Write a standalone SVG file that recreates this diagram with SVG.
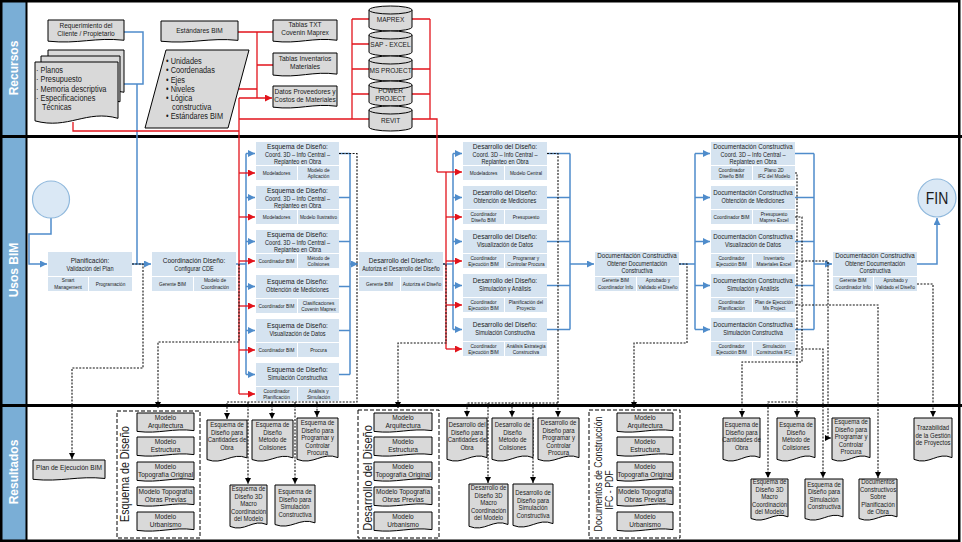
<svg xmlns="http://www.w3.org/2000/svg" width="962" height="542" viewBox="0 0 962 542">
<defs>
<style>
.t{font-family:"Liberation Sans",Arial,sans-serif;fill:#1a1a1a;text-anchor:middle;transform-box:fill-box;transform-origin:50% 50%;transform:scaleX(0.82)}
.s{text-anchor:start;transform-origin:0% 50%}
.f8{font-size:8px}
.f9{font-size:9px}
.ti{font-size:8px}
.ti2{font-size:7.6px}
.st{font-size:6.8px}
.rl{font-size:5.8px}
.r7{font-size:7.3px}
.bx{fill:#d5e3f0}
.doc{fill:#d9d9d9;stroke:#000;stroke-width:1}
.db{fill:#d9d9d9;stroke:#000;stroke-width:1}
.bl{fill:none;stroke:#4f8ccb;stroke-width:1.5}
.rd{fill:none;stroke:#e2141c;stroke-width:1.3}
.dt{fill:none;stroke:#111;stroke-width:1.1;stroke-dasharray:2 1.4}
.grp{fill:none;stroke:#000;stroke-width:1;stroke-dasharray:4 2}
.lane{font-family:"Liberation Sans",Arial,sans-serif;font-weight:bold;font-size:12px;fill:#fff;text-anchor:middle}
.circ{fill:#dae8f5;stroke:#8fb8dc;stroke-width:1.2}
</style>
<symbol id="doc" viewBox="0 0 100 100" preserveAspectRatio="none" overflow="visible"><path d="M0,0H100V88C62,74 40,106 0,92Z" vector-effect="non-scaling-stroke"/></symbol>
<marker id="ab" viewBox="0 0 10 10" refX="10" refY="5" markerWidth="7" markerHeight="7" markerUnits="userSpaceOnUse" orient="auto"><path d="M0,0L10,5L0,10z" fill="#4f8ccb"/></marker>
<marker id="ar" viewBox="0 0 10 10" refX="10" refY="5" markerWidth="7" markerHeight="7" markerUnits="userSpaceOnUse" orient="auto"><path d="M0,0L10,5L0,10z" fill="#e2141c"/></marker>
<marker id="ak" viewBox="0 0 10 10" refX="10" refY="5" markerWidth="6" markerHeight="6" markerUnits="userSpaceOnUse" orient="auto"><path d="M0,0L10,5L0,10z" fill="#000"/></marker>
</defs>
<rect x="0" y="0" width="962" height="542" fill="#fff"/>
<g id="lanes">
<rect x="0" y="0" width="26" height="542" fill="#7aaed6"/>
<text class="lane" transform="translate(17.5,68) rotate(-90)">Recursos</text>
<text class="lane" transform="translate(17.5,270) rotate(-90)">Usos BIM</text>
<text class="lane" transform="translate(17.5,472) rotate(-90)">Resultados</text>
<line x1="0" y1="136.5" x2="962" y2="136.5" stroke="#000" stroke-width="3"/>
<line x1="0" y1="405.5" x2="962" y2="405.5" stroke="#000" stroke-width="3"/>
<line x1="26.5" y1="0" x2="26.5" y2="542" stroke="#000" stroke-width="2"/>
<rect x="1.25" y="1.25" width="958" height="539.5" fill="none" stroke="#000" stroke-width="2.5"/>
</g>

<g id="connectors">
<path class="bl" d="M124,32H143V84H124M137,84V264"/>
<path class="bl" d="M51,218V234H29V264H47" marker-end="url(#ab)"/>
<path class="bl" d="M132,264H151" marker-end="url(#ab)"/>
<path class="bl" d="M236,264H246M246,153.5V374.5"/>
<path class="bl" d="M246,153.5H255" marker-end="url(#ab)"/>
<path class="bl" d="M246,197.5H255" marker-end="url(#ab)"/>
<path class="bl" d="M246,241.5H255" marker-end="url(#ab)"/>
<path class="bl" d="M246,286.5H255" marker-end="url(#ab)"/>
<path class="bl" d="M246,330.5H255" marker-end="url(#ab)"/>
<path class="bl" d="M246,374.5H255" marker-end="url(#ab)"/>
<path class="bl" d="M339,153.5H350M339,197.5H350M339,241.5H350M339,286.5H350M339,330.5H350M339,374.5H350M350,153.5V374.5"/>
<path class="bl" d="M350,264H358" marker-end="url(#ab)"/>
<path class="bl" d="M443,264H453M453,153.5V329.5"/>
<path class="bl" d="M453,153.5H462" marker-end="url(#ab)"/>
<path class="bl" d="M453,197.5H462" marker-end="url(#ab)"/>
<path class="bl" d="M453,241.5H462" marker-end="url(#ab)"/>
<path class="bl" d="M453,285.5H462" marker-end="url(#ab)"/>
<path class="bl" d="M453,329.5H462" marker-end="url(#ab)"/>
<path class="bl" d="M547,153.5H570M547,197.5H570M547,241.5H570M547,285.5H570M547,329.5H570M570,153.5V329.5"/>
<path class="bl" d="M570,264H594" marker-end="url(#ab)"/>
<path class="bl" d="M679,264H695M695,153.5V329.5"/>
<path class="bl" d="M695,153.5H710" marker-end="url(#ab)"/>
<path class="bl" d="M695,197.5H710" marker-end="url(#ab)"/>
<path class="bl" d="M695,241.5H710" marker-end="url(#ab)"/>
<path class="bl" d="M695,285.5H710" marker-end="url(#ab)"/>
<path class="bl" d="M695,329.5H710" marker-end="url(#ab)"/>
<path class="bl" d="M795,153.5H814M795,197.5H814M795,241.5H814M795,285.5H814M795,329.5H814M814,153.5V329.5"/>
<path class="bl" d="M814,264H832" marker-end="url(#ab)"/>
<path class="bl" d="M917,264H937V218" marker-end="url(#ab)"/>

<path class="rd" d="M238,32H273M257,32V98M257,65H273M239,89H257M73,122V131H239M239,98V394M239,119H369M352,19V119M352,19H369M352,44H369M352,69H369M352,94H369M412,19H430M412,69H430M412,94H430M430,19V119M412,119H437V172M446,172V349"/>
<path class="rd" d="M239,98H272" marker-end="url(#ar)"/>
<path class="rd" d="M239,173H255" marker-end="url(#ar)"/>
<path class="rd" d="M239,217H255" marker-end="url(#ar)"/>
<path class="rd" d="M239,261H255" marker-end="url(#ar)"/>
<path class="rd" d="M239,306H255" marker-end="url(#ar)"/>
<path class="rd" d="M239,350H255" marker-end="url(#ar)"/>
<path class="rd" d="M239,394H255" marker-end="url(#ar)"/>
<path class="rd" d="M437,172H462" marker-end="url(#ar)"/>
<path class="rd" d="M446,217H462" marker-end="url(#ar)"/>
<path class="rd" d="M446,261H462" marker-end="url(#ar)"/>
<path class="rd" d="M446,305H462" marker-end="url(#ar)"/>
<path class="rd" d="M446,349H462" marker-end="url(#ar)"/>

<path class="dt" d="M132,264H143V368H72V459" marker-end="url(#ak)"/>
<path class="dt" d="M239,264V342H158V408" marker-end="url(#ak)"/>
<path class="dt" d="M339,153.5H357V402H227V419" marker-end="url(#ak)"/>
<path class="dt" d="M248,402V484" marker-end="url(#ak)"/>
<path class="dt" d="M272,402V419" marker-end="url(#ak)"/>
<path class="dt" d="M295,402V484" marker-end="url(#ak)"/>
<path class="dt" d="M317,402V417" marker-end="url(#ak)"/>
<path class="dt" d="M443,264H446V343H398V408" marker-end="url(#ak)"/>
<path class="dt" d="M547,153.5H558V417" marker-end="url(#ak)"/>
<path class="dt" d="M558,403H467V417" marker-end="url(#ak)"/>
<path class="dt" d="M488,403V483" marker-end="url(#ak)"/>
<path class="dt" d="M512,403V417" marker-end="url(#ak)"/>
<path class="dt" d="M533,403V483" marker-end="url(#ak)"/>
<path class="dt" d="M679,264H687V343H634V408" marker-end="url(#ak)"/>
<path class="dt" d="M795,173H797V417" marker-end="url(#ak)"/>
<path class="dt" d="M797,402H768V478" marker-end="url(#ak)"/>
<path class="dt" d="M795,217H802V362H742V417" marker-end="url(#ak)"/>
<path class="dt" d="M795,261H828V438H831" marker-end="url(#ak)"/>
<path class="dt" d="M795,305H878V478" marker-end="url(#ak)"/>
<path class="dt" d="M795,349H823V478" marker-end="url(#ak)"/>
<path class="dt" d="M917,284H933V417" marker-end="url(#ak)"/>
</g>

<g id="req">
<use href="#doc" class="doc" x="48" y="20" width="76" height="23"/>
<text class="t f8" x="86" y="28.5">Requerimiento del</text>
<text class="t f8" x="86" y="36.5">Cliente / Propietario</text>
</g>
<g id="docs-proyecto">
<use href="#doc" class="doc" x="48" y="50" width="76" height="48"/>
<use href="#doc" class="doc" x="41" y="56" width="79" height="52"/>
<use href="#doc" class="doc" x="35" y="62" width="83" height="64"/>
<text class="t s f9" x="36" y="73">· Planos</text>
<text class="t s f9" x="36" y="82">· Presupuesto</text>
<text class="t s f9" x="36" y="92">· Memoria descriptiva</text>
<text class="t s f9" x="36" y="101">· Especificaciones</text>
<text class="t s f9" x="42" y="110">Técnicas</text>
</g>
<g id="estandares">
<use href="#doc" class="doc" x="161" y="21" width="77" height="22"/>
<text class="t f8" x="199.5" y="33">Estándares BIM</text>
</g>
<g id="lista-estandares">
<polygon class="doc" points="166,50 249,50 228,128 145,128"/>
<text class="t s f9" x="166" y="64">• Unidades</text>
<text class="t s f9" x="166" y="73">• Coordenadas</text>
<text class="t s f9" x="166" y="83">• Ejes</text>
<text class="t s f9" x="166" y="92">• Niveles</text>
<text class="t s f9" x="166" y="101">• Lógica</text>
<text class="t s f9" x="172" y="110">constructiva</text>
<text class="t s f9" x="166" y="119">• Estándares BIM</text>
</g>
<g id="tablas-txt">
<use href="#doc" class="doc" x="273" y="20" width="64" height="23"/>
<text class="t f8" x="305" y="27.5">Tablas TXT</text>
<text class="t f8" x="305" y="35.5">Covenin Maprex</text>
</g>
<g id="tablas-inv">
<use href="#doc" class="doc" x="273" y="53" width="64" height="24"/>
<text class="t f8" x="305" y="61">Tablas Inventarios</text>
<text class="t f8" x="305" y="69">Materiales</text>
</g>
<g id="datos-prov">
<use href="#doc" class="doc" x="273" y="86" width="64" height="23"/>
<text class="t f8" x="305" y="94">Datos Proveedores y</text>
<text class="t f8" x="305" y="102">Costos de Materiales</text>
</g>
<g id="db-maprex">
<path class="db" d="M369,10a21.5,4 0 0 1 43,0v17a21.5,4 0 0 1 -43,0z"/><path class="db" fill="none" d="M369,10a21.5,4 0 0 0 43,0"/>
<text class="t f8" x="390.5" y="22.5">MAPREX</text>
</g>
<g id="db-sap">
<path class="db" d="M369,35a21.5,4 0 0 1 43,0v17a21.5,4 0 0 1 -43,0z"/><path class="db" fill="none" d="M369,35a21.5,4 0 0 0 43,0"/>
<text class="t f8" x="390.5" y="47.5">SAP - EXCEL</text>
</g>
<g id="db-msproject">
<path class="db" d="M369,60a21.5,4 0 0 1 43,0v17a21.5,4 0 0 1 -43,0z"/><path class="db" fill="none" d="M369,60a21.5,4 0 0 0 43,0"/>
<text class="t f8" x="390.5" y="72.5">MS PROJECT</text>
</g>
<g id="db-powerproject">
<path class="db" d="M369,85a21.5,4 0 0 1 43,0v17a21.5,4 0 0 1 -43,0z"/><path class="db" fill="none" d="M369,85a21.5,4 0 0 0 43,0"/>
<text class="t f8" x="390.5" y="93.5">POWER</text>
<text class="t f8" x="390.5" y="101.5">PROJECT</text>
</g>
<g id="db-revit">
<path class="db" d="M369,110a21.5,4 0 0 1 43,0v17a21.5,4 0 0 1 -43,0z"/><path class="db" fill="none" d="M369,110a21.5,4 0 0 0 43,0"/>
<text class="t f8" x="390.5" y="123">REVIT</text>
</g>

<g id="inicio"><circle class="circ" cx="51" cy="199.5" r="18.5"/></g>
<g id="fin"><circle class="circ" cx="937" cy="198" r="19"/><text class="t" style="font-size:17px" x="937" y="204">FIN</text></g>

<g id="planificacion">
<rect class="bx" x="48" y="252" width="84" height="24"/><rect class="bx" x="48" y="277" width="40" height="14"/><rect class="bx" x="89" y="277" width="43" height="14"/>
<text class="t ti" x="90" y="263">Planificación:</text><text class="t st" x="90" y="271">Validación del Plan</text>
<text class="t rl" x="68" y="282">Smart</text><text class="t rl" x="68" y="288.8">Management</text>
<text class="t rl" x="110.5" y="286">Programación</text>
</g>
<g id="coordinacion">
<rect class="bx" x="152" y="252" width="84" height="24"/><rect class="bx" x="152" y="277" width="41" height="14"/><rect class="bx" x="194" y="277" width="42" height="14"/>
<text class="t ti" x="194" y="263">Coordinación Diseño:</text><text class="t st" x="194" y="271">Configurar CDE</text>
<text class="t rl" x="172.5" y="286">Gerente BIM</text>
<text class="t rl" x="215" y="282">Modelo de</text><text class="t rl" x="215" y="288.8">Coordinación</text>
</g>

<g id="esq1">
<rect class="bx" x="256" y="142" width="83" height="23"/><rect class="bx" x="256" y="166" width="41" height="14"/><rect class="bx" x="298" y="166" width="41" height="14"/>
<text class="t ti" x="297.5" y="149.3">Esquema de Diseño:</text><text class="t st" x="297.5" y="156.6">Coord. 3D – Info Central –</text><text class="t st" x="297.5" y="163.9">Replanteo en Obra</text>
<text class="t rl" x="276.5" y="175">Modeladores</text><text class="t rl" x="318.5" y="171.6">Modelo de</text><text class="t rl" x="318.5" y="178.4">Aplicación</text>
</g>
<g id="esq2">
<rect class="bx" x="256" y="186" width="83" height="23"/><rect class="bx" x="256" y="210" width="41" height="14"/><rect class="bx" x="298" y="210" width="41" height="14"/>
<text class="t ti" x="297.5" y="193.3">Esquema de Diseño:</text><text class="t st" x="297.5" y="200.6">Coord. 3D – Info Central –</text><text class="t st" x="297.5" y="207.9">Replanteo en Obra</text>
<text class="t rl" x="276.5" y="219">Modeladores</text><text class="t rl" x="318.5" y="219">Modelo Ilustrativo</text>
</g>
<g id="esq3">
<rect class="bx" x="256" y="230" width="83" height="23"/><rect class="bx" x="256" y="254" width="41" height="14"/><rect class="bx" x="298" y="254" width="41" height="14"/>
<text class="t ti" x="297.5" y="237.3">Esquema de Diseño:</text><text class="t st" x="297.5" y="244.6">Coord. 3D – Info Central –</text><text class="t st" x="297.5" y="251.9">Replanteo en Obra</text>
<text class="t rl" x="276.5" y="263">Coordinador BIM</text><text class="t rl" x="318.5" y="259.6">Método de</text><text class="t rl" x="318.5" y="266.4">Colisiones</text>
</g>
<g id="esq4">
<rect class="bx" x="256" y="275" width="83" height="23"/><rect class="bx" x="256" y="299" width="41" height="14"/><rect class="bx" x="298" y="299" width="41" height="14"/>
<text class="t ti" x="297.5" y="284">Esquema de Diseño:</text><text class="t st" x="297.5" y="292">Obtención de Mediciones</text>
<text class="t rl" x="276.5" y="308">Coordinador BIM</text><text class="t rl" x="318.5" y="304.6">Clasificaciones</text><text class="t rl" x="318.5" y="311.4">Covenin Maprex</text>
</g>
<g id="esq5">
<rect class="bx" x="256" y="319" width="83" height="23"/><rect class="bx" x="256" y="343" width="41" height="14"/><rect class="bx" x="298" y="343" width="41" height="14"/>
<text class="t ti" x="297.5" y="328">Esquema de Diseño:</text><text class="t st" x="297.5" y="336">Visualización de Datos</text>
<text class="t rl" x="276.5" y="352">Coordinador BIM</text><text class="t rl" x="318.5" y="352">Procura</text>
</g>
<g id="esq6">
<rect class="bx" x="256" y="363" width="83" height="23"/><rect class="bx" x="256" y="387" width="41" height="14"/><rect class="bx" x="298" y="387" width="41" height="14"/>
<text class="t ti" x="297.5" y="372">Esquema de Diseño:</text><text class="t st" x="297.5" y="380">Simulación Constructiva</text>
<text class="t rl" x="276.5" y="392.6">Coordinador</text><text class="t rl" x="276.5" y="399.4">Planificación</text>
<text class="t rl" x="318.5" y="392.6">Análisis y</text><text class="t rl" x="318.5" y="399.4">Simulación</text>
</g>

<g id="desarrollo">
<rect class="bx" x="359" y="252" width="84" height="24"/><rect class="bx" x="359" y="277" width="41" height="14"/><rect class="bx" x="401" y="277" width="42" height="14"/>
<text class="t ti" x="401" y="263">Desarrollo del Diseño:</text><text class="t" style="font-size:6.5px" x="401" y="271">Autoriza el Desarrollo del Diseño</text>
<text class="t rl" x="379.5" y="286">Gerente BIM</text><text class="t rl" x="422" y="286">Autoriza el Diseño</text>
</g>

<g id="des1">
<rect class="bx" x="463" y="142" width="84" height="23"/><rect class="bx" x="463" y="166" width="41" height="14"/><rect class="bx" x="505" y="166" width="42" height="14"/>
<text class="t ti" x="505" y="149.3">Desarrollo del Diseño:</text><text class="t st" x="505" y="156.6">Coord. 3D – Info Central –</text><text class="t st" x="505" y="163.9">Replanteo en Obra</text>
<text class="t rl" x="483.5" y="175">Modeladores</text><text class="t rl" x="526" y="175">Modelo Central</text>
</g>
<g id="des2">
<rect class="bx" x="463" y="186" width="84" height="23"/><rect class="bx" x="463" y="210" width="41" height="14"/><rect class="bx" x="505" y="210" width="42" height="14"/>
<text class="t ti" x="505" y="195">Desarrollo del Diseño:</text><text class="t st" x="505" y="203">Obtención de Mediciones</text>
<text class="t rl" x="483.5" y="215.6">Coordinador</text><text class="t rl" x="483.5" y="222.4">Diseño BIM</text><text class="t rl" x="526" y="219">Presupuesto</text>
</g>
<g id="des3">
<rect class="bx" x="463" y="230" width="84" height="23"/><rect class="bx" x="463" y="254" width="41" height="14"/><rect class="bx" x="505" y="254" width="42" height="14"/>
<text class="t ti" x="505" y="239">Desarrollo del Diseño:</text><text class="t st" x="505" y="247">Visualización de Datos</text>
<text class="t rl" x="483.5" y="259.6">Coordinador</text><text class="t rl" x="483.5" y="266.4">Ejecución BIM</text>
<text class="t rl" x="526" y="259.6">Programar y</text><text class="t rl" x="526" y="266.4">Controlar Procura</text>
</g>
<g id="des4">
<rect class="bx" x="463" y="274" width="84" height="23"/><rect class="bx" x="463" y="298" width="41" height="14"/><rect class="bx" x="505" y="298" width="42" height="14"/>
<text class="t ti" x="505" y="283">Desarrollo del Diseño:</text><text class="t st" x="505" y="291">Simulación y Análisis</text>
<text class="t rl" x="483.5" y="303.6">Coordinador</text><text class="t rl" x="483.5" y="310.4">Ejecución BIM</text>
<text class="t rl" x="526" y="303.6">Planificación del</text><text class="t rl" x="526" y="310.4">Proyecto</text>
</g>
<g id="des5">
<rect class="bx" x="463" y="318" width="84" height="23"/><rect class="bx" x="463" y="342" width="41" height="14"/><rect class="bx" x="505" y="342" width="42" height="14"/>
<text class="t ti" x="505" y="327">Desarrollo del Diseño:</text><text class="t st" x="505" y="335">Simulación Constructiva</text>
<text class="t rl" x="483.5" y="347.6">Coordinador</text><text class="t rl" x="483.5" y="354.4">Ejecución BIM</text>
<text class="t rl" x="526" y="347.6">Análisis Estrategia</text><text class="t rl" x="526" y="354.4">Constructiva</text>
</g>

<g id="documentacion">
<rect class="bx" x="595" y="252" width="84" height="24"/><rect class="bx" x="595" y="277" width="41" height="14"/><rect class="bx" x="637" y="277" width="42" height="14"/>
<text class="t ti2" x="637" y="258.3">Documentación Constructiva</text><text class="t st" x="637" y="265.8">Obtener Documentación</text><text class="t st" x="637" y="273.2">Constructiva</text>
<text class="t rl" x="615.5" y="282">Gerente BIM</text><text class="t rl" x="615.5" y="288.8">Coordinador Info</text>
<text class="t rl" x="658" y="282">Aprobado y</text><text class="t rl" x="658" y="288.8">Validado el Diseño</text>
</g>

<g id="doc1">
<rect class="bx" x="711" y="142" width="84" height="23"/><rect class="bx" x="711" y="166" width="41" height="14"/><rect class="bx" x="753" y="166" width="42" height="14"/>
<text class="t ti2" x="753" y="149.3">Documentación Constructiva</text><text class="t st" x="753" y="156.6">Coord. 3D – Info Central –</text><text class="t st" x="753" y="163.9">Replanteo en Obra</text>
<text class="t rl" x="731.5" y="171.6">Coordinador</text><text class="t rl" x="731.5" y="178.4">Diseño BIM</text>
<text class="t rl" x="774" y="171.6">Plano 2D</text><text class="t rl" x="774" y="178.4">IFC del Modelo</text>
</g>
<g id="doc2">
<rect class="bx" x="711" y="186" width="84" height="23"/><rect class="bx" x="711" y="210" width="41" height="14"/><rect class="bx" x="753" y="210" width="42" height="14"/>
<text class="t ti2" x="753" y="195">Documentación Constructiva</text><text class="t st" x="753" y="203">Obtención de Mediciones</text>
<text class="t rl" x="731.5" y="219">Coordinador BIM</text>
<text class="t rl" x="774" y="215.6">Presupuesto</text><text class="t rl" x="774" y="222.4">Maprex-Excel</text>
</g>
<g id="doc3">
<rect class="bx" x="711" y="230" width="84" height="23"/><rect class="bx" x="711" y="254" width="41" height="14"/><rect class="bx" x="753" y="254" width="42" height="14"/>
<text class="t ti2" x="753" y="239">Documentación Constructiva</text><text class="t st" x="753" y="247">Visualización de Datos</text>
<text class="t rl" x="731.5" y="259.6">Coordinador</text><text class="t rl" x="731.5" y="266.4">Ejecución BIM</text>
<text class="t rl" x="774" y="259.6">Inventario</text><text class="t rl" x="774" y="266.4">Materiales Excel</text>
</g>
<g id="doc4">
<rect class="bx" x="711" y="274" width="84" height="23"/><rect class="bx" x="711" y="298" width="41" height="14"/><rect class="bx" x="753" y="298" width="42" height="14"/>
<text class="t ti2" x="753" y="283">Documentación Constructiva</text><text class="t st" x="753" y="291">Simulación y Análisis</text>
<text class="t rl" x="731.5" y="303.6">Coordinador</text><text class="t rl" x="731.5" y="310.4">Planificación</text>
<text class="t rl" x="774" y="303.6">Plan de Ejecución</text><text class="t rl" x="774" y="310.4">Ms Project</text>
</g>
<g id="doc5">
<rect class="bx" x="711" y="318" width="84" height="23"/><rect class="bx" x="711" y="342" width="41" height="14"/><rect class="bx" x="753" y="342" width="42" height="14"/>
<text class="t ti2" x="753" y="327">Documentación Constructiva</text><text class="t st" x="753" y="335">Simulación Constructiva</text>
<text class="t rl" x="731.5" y="347.6">Coordinador</text><text class="t rl" x="731.5" y="354.4">Ejecución BIM</text>
<text class="t rl" x="774" y="347.6">Simulación</text><text class="t rl" x="774" y="354.4">Constructiva IFC</text>
</g>

<g id="documentacion-final">
<rect class="bx" x="833" y="252" width="84" height="24"/><rect class="bx" x="833" y="277" width="40" height="14"/><rect class="bx" x="874" y="277" width="43" height="14"/>
<text class="t ti2" x="875" y="258.3">Documentación Constructiva</text><text class="t st" x="875" y="265.8">Obtener Documentación</text><text class="t st" x="875" y="273.2">Constructiva</text>
<text class="t rl" x="853" y="282">Gerente BIM</text><text class="t rl" x="853" y="288.8">Coordinador Info</text>
<text class="t rl" x="895.5" y="282">Aprobado y</text><text class="t rl" x="895.5" y="288.8">Validado el Diseño</text>
</g>

<g id="plan-ejecucion">
<use href="#doc" class="doc" x="33" y="460" width="72" height="21"/>
<text class="t f8" x="69" y="470.5">Plan de Ejecución BIM</text>
</g>

<g id="grupo-esquema">
<rect class="grp" x="117" y="411" width="83" height="127"/>
<g transform="translate(129,474) rotate(-90)"><text class="t" style="font-size:13px" x="0" y="0">Esquema de Diseño</text></g>
<use href="#doc" class="doc" x="137" y="413" width="57" height="20"/>
<text class="t f8" x="165.5" y="420">Modelo</text><text class="t f8" x="165.5" y="428">Arquitectura</text>
<use href="#doc" class="doc" x="137" y="437" width="57" height="20"/>
<text class="t f8" x="165.5" y="444">Modelo</text><text class="t f8" x="165.5" y="452">Estructura</text>
<use href="#doc" class="doc" x="137" y="462" width="57" height="20"/>
<text class="t f8" x="165.5" y="469">Modelo</text><text class="t f8" x="165.5" y="477">Topografía Original</text>
<use href="#doc" class="doc" x="137" y="487" width="57" height="20"/>
<text class="t f8" x="165.5" y="494">Modelo Topografía</text><text class="t f8" x="165.5" y="502">Obras Previas</text>
<use href="#doc" class="doc" x="137" y="512" width="57" height="20"/>
<text class="t f8" x="165.5" y="519">Modelo</text><text class="t f8" x="165.5" y="527">Urbanismo</text>
</g>

<g id="esq-cantidades">
<use href="#doc" class="doc" x="207" y="420" width="40" height="43"/>
<text class="t r7" x="227" y="427.5">Esquema de</text><text class="t r7" x="227" y="435">Diseño para</text><text class="t r7" x="227" y="442.5">Cantidades de</text><text class="t r7" x="227" y="450">Obra</text>
</g>
<g id="esq-colisiones">
<use href="#doc" class="doc" x="252" y="420" width="41" height="43"/>
<text class="t r7" x="272.5" y="427.5">Esquema de</text><text class="t r7" x="272.5" y="435">Diseño</text><text class="t r7" x="272.5" y="442.5">Método de</text><text class="t r7" x="272.5" y="450">Colisiones</text>
</g>
<g id="esq-procura">
<use href="#doc" class="doc" x="297" y="418" width="41" height="45"/>
<text class="t r7" x="317.5" y="425.5">Esquema de</text><text class="t r7" x="317.5" y="433">Diseño para</text><text class="t r7" x="317.5" y="440.5">Programar y</text><text class="t r7" x="317.5" y="448">Controlar</text><text class="t r7" x="317.5" y="455.5">Procura</text>
</g>
<g id="esq-macro">
<use href="#doc" class="doc" x="230" y="485" width="37" height="45"/>
<text class="t r7" x="248.5" y="491.5">Esquema de</text><text class="t r7" x="248.5" y="499">Diseño 3D</text><text class="t r7" x="248.5" y="506.5">Macro</text><text class="t r7" x="248.5" y="514">Coordinación</text><text class="t r7" x="248.5" y="521.5">del Modelo</text>
</g>
<g id="esq-simulacion">
<use href="#doc" class="doc" x="275" y="485" width="40" height="43"/>
<text class="t r7" x="295" y="494.5">Esquema de</text><text class="t r7" x="295" y="502">Diseño para</text><text class="t r7" x="295" y="509.5">Simulación</text><text class="t r7" x="295" y="517">Constructiva</text>
</g>

<g id="grupo-desarrollo">
<rect class="grp" x="358" y="410" width="81" height="128"/>
<g transform="translate(372,478) rotate(-90)"><text class="t" style="font-size:13.5px" x="0" y="0">Desarrollo del Diseño</text></g>
<use href="#doc" class="doc" x="374" y="413" width="58" height="20"/>
<text class="t f8" x="403" y="420">Modelo</text><text class="t f8" x="403" y="428">Arquitectura</text>
<use href="#doc" class="doc" x="374" y="437" width="58" height="20"/>
<text class="t f8" x="403" y="444">Modelo</text><text class="t f8" x="403" y="452">Estructura</text>
<use href="#doc" class="doc" x="374" y="462" width="58" height="20"/>
<text class="t f8" x="403" y="469">Modelo</text><text class="t f8" x="403" y="477">Topografía Original</text>
<use href="#doc" class="doc" x="374" y="487" width="58" height="20"/>
<text class="t f8" x="403" y="494">Modelo Topografía</text><text class="t f8" x="403" y="502">Obras Previas</text>
<use href="#doc" class="doc" x="374" y="512" width="58" height="20"/>
<text class="t f8" x="403" y="519">Modelo</text><text class="t f8" x="403" y="527">Urbanismo</text>
</g>

<g id="des-cantidades">
<use href="#doc" class="doc" x="447" y="418" width="40" height="45"/>
<text class="t r7" x="467" y="427.5">Desarrollo del</text><text class="t r7" x="467" y="435">Diseño para</text><text class="t r7" x="467" y="442.5">Cantidades de</text><text class="t r7" x="467" y="450">Obra</text>
</g>
<g id="des-colisiones">
<use href="#doc" class="doc" x="492" y="418" width="41" height="45"/>
<text class="t r7" x="512.5" y="427.5">Desarrollo de</text><text class="t r7" x="512.5" y="435">Diseño</text><text class="t r7" x="512.5" y="442.5">Método de</text><text class="t r7" x="512.5" y="450">Colisiones</text>
</g>
<g id="des-procura">
<use href="#doc" class="doc" x="538" y="418" width="41" height="45"/>
<text class="t r7" x="558.5" y="425.5">Desarrollo de</text><text class="t r7" x="558.5" y="433">Diseño para</text><text class="t r7" x="558.5" y="440.5">Programar y</text><text class="t r7" x="558.5" y="448">Controlar</text><text class="t r7" x="558.5" y="455.5">Procura</text>
</g>
<g id="des-macro">
<use href="#doc" class="doc" x="469" y="484" width="39" height="46"/>
<text class="t r7" x="488.5" y="490.5">Desarrollo de</text><text class="t r7" x="488.5" y="498">Diseño 3D</text><text class="t r7" x="488.5" y="505.5">Macro</text><text class="t r7" x="488.5" y="513">Coordinación</text><text class="t r7" x="488.5" y="520.5">del Modelo</text>
</g>
<g id="des-simulacion">
<use href="#doc" class="doc" x="513" y="484" width="40" height="45"/>
<text class="t r7" x="533" y="495.5">Desarrollo de</text><text class="t r7" x="533" y="503">Diseño para</text><text class="t r7" x="533" y="510.5">Simulación</text><text class="t r7" x="533" y="518">Constructiva</text>
</g>

<g id="grupo-documentos">
<rect class="grp" x="589" y="410" width="91" height="128"/>
<g transform="translate(602,474) rotate(-90)"><text class="t" style="font-size:10.7px" x="0" y="0">Documentos de Construcción</text></g>
<g transform="translate(613,490) rotate(-90)"><text class="t" style="font-size:10.7px" x="0" y="0">IFC - PDF</text></g>
<use href="#doc" class="doc" x="617" y="413" width="56" height="20"/>
<text class="t f8" x="645" y="420">Modelo</text><text class="t f8" x="645" y="428">Arquitectura</text>
<use href="#doc" class="doc" x="617" y="437" width="56" height="20"/>
<text class="t f8" x="645" y="444">Modelo</text><text class="t f8" x="645" y="452">Estructura</text>
<use href="#doc" class="doc" x="617" y="462" width="56" height="20"/>
<text class="t f8" x="645" y="469">Modelo</text><text class="t f8" x="645" y="477">Topografía Original</text>
<use href="#doc" class="doc" x="617" y="487" width="56" height="20"/>
<text class="t f8" x="645" y="494">Modelo Topografía</text><text class="t f8" x="645" y="502">Obras Previas</text>
<use href="#doc" class="doc" x="617" y="512" width="56" height="20"/>
<text class="t f8" x="645" y="519">Modelo</text><text class="t f8" x="645" y="527">Urbanismo</text>
</g>

<g id="doc-cantidades">
<use href="#doc" class="doc" x="723" y="418" width="37" height="45"/>
<text class="t r7" x="741.5" y="427.5">Esquema de</text><text class="t r7" x="741.5" y="435">Diseño para</text><text class="t r7" x="741.5" y="442.5">Cantidades de</text><text class="t r7" x="741.5" y="450">Obra</text>
</g>
<g id="doc-colisiones">
<use href="#doc" class="doc" x="777" y="418" width="38" height="45"/>
<text class="t r7" x="796" y="427.5">Esquema de</text><text class="t r7" x="796" y="435">Diseño</text><text class="t r7" x="796" y="442.5">Método de</text><text class="t r7" x="796" y="450">Colisiones</text>
</g>
<g id="doc-procura">
<use href="#doc" class="doc" x="832" y="418" width="38" height="45"/>
<text class="t r7" x="851" y="424.5">Esquema de</text><text class="t r7" x="851" y="432">Diseño para</text><text class="t r7" x="851" y="439.5">Programar y</text><text class="t r7" x="851" y="447">Controlar</text><text class="t r7" x="851" y="454.5">Procura</text>
</g>
<g id="doc-macro">
<use href="#doc" class="doc" x="751" y="479" width="37" height="43"/>
<text class="t r7" x="769.5" y="484.5">Esquema de</text><text class="t r7" x="769.5" y="492">Diseño 3D</text><text class="t r7" x="769.5" y="499.5">Macro</text><text class="t r7" x="769.5" y="507">Coordinación</text><text class="t r7" x="769.5" y="514.5">del Modelo</text>
</g>
<g id="doc-simulacion">
<use href="#doc" class="doc" x="805" y="479" width="38" height="43"/>
<text class="t r7" x="824" y="487">Esquema de</text><text class="t r7" x="824" y="494.5">Diseño para</text><text class="t r7" x="824" y="502">Simulación</text><text class="t r7" x="824" y="509.5">Constructiva</text>
</g>
<g id="doc-planificacion">
<use href="#doc" class="doc" x="859" y="479" width="38" height="43"/>
<text class="t r7" x="878" y="484.5">Documentos</text><text class="t r7" x="878" y="492">Constructivos</text><text class="t r7" x="878" y="499.5">Sobre</text><text class="t r7" x="878" y="507">Planificación</text><text class="t r7" x="878" y="514.5">de Obra</text>
</g>
<g id="doc-trazabilidad">
<use href="#doc" class="doc" x="914" y="418" width="38" height="45"/>
<text class="t r7" x="933" y="430.5">Trazabilidad</text><text class="t r7" x="933" y="438">de la Gestión</text><text class="t r7" x="933" y="445.5">de Proyectos</text>
</g>
</svg>
